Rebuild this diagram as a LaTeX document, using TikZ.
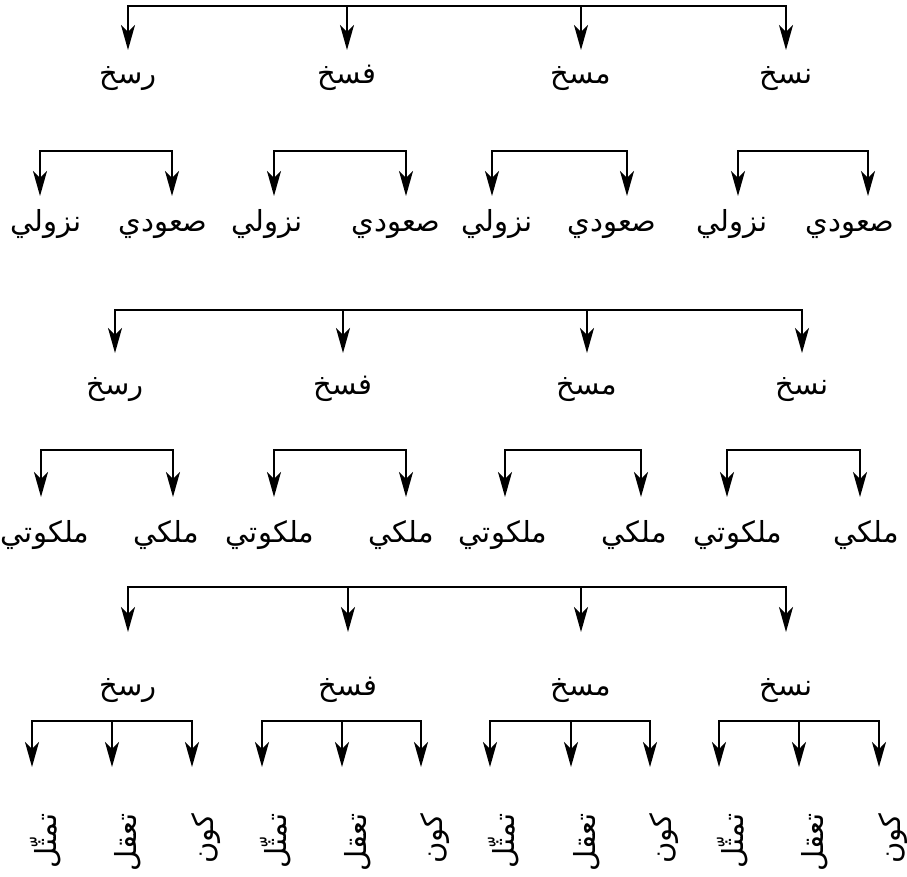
\documentclass[tikz,border=0pt]{standalone}
\usepackage{fontspec}
\newfontfamily\arabicfont[Script=Arabic]{DejaVu Sans}
\TeXXeTstate=1
\usetikzlibrary{arrows.meta,calc}
\newcommand{\artxt}[1]{\beginR #1\endR}
\tikzset{
  conn/.style={line width=2pt, line cap=rect},
  arr/.style={line width=2pt, -{Stealth[length=25pt,width=14pt,inset=7pt]}},
  lab/.style={inner xsep=0pt, text height=23pt, text depth=9pt, anchor=north,
              font=\arabicfont\fontsize{29}{34}\selectfont},
  vlab/.style={inner sep=0pt, text height=22pt, text depth=9pt, rotate=90, anchor=east,
              font=\arabicfont\fontsize{29}{34}\selectfont},
}
\begin{document}
\begin{tikzpicture}[x=1pt,y=-1pt]
\useasboundingbox (0,0) rectangle (907,876);

% ---------- Section 1 ----------
\coordinate (a1) at (128,6); \coordinate (a2) at (347,6);
\coordinate (a3) at (581,6); \coordinate (a4) at (786,6);
\draw[conn] (a1) -- (a4);
\node[lab, inner ysep=10pt] (A1) at (128,50) {\artxt{رسخ}};
\node[lab, inner ysep=10pt] (A2) at (347,50) {\artxt{فسخ}};
\node[lab, inner ysep=10pt] (A3) at (581,50) {\artxt{مسخ}};
\node[lab, inner ysep=10pt] (A4) at (786,50) {\artxt{نسخ}};
\foreach \i in {1,...,4} \draw[arr] (a\i) -- (a\i |- A\i.north);

% row 2 brackets
\foreach \i/\l/\r in {1/40/172, 2/274/406, 3/492/627, 4/738/868}{
  \coordinate (bl\i) at (\l,151); \coordinate (br\i) at (\r,151);
  \draw[conn] (bl\i) -- (br\i);
}
\foreach \i/\xl/\xr in {1/46/163, 2/267/396, 3/497/612, 4/732/850}{
  \node[lab, inner ysep=12pt] (BL\i) at (\xl,196) {\artxt{نزولي}};
  \node[lab, inner ysep=12pt] (BR\i) at (\xr,196) {\artxt{صعودي}};
  \draw[arr] (bl\i) -- (bl\i |- BL\i.north);
  \draw[arr] (br\i) -- (br\i |- BR\i.north);
}

% ---------- Section 2 ----------
\coordinate (c1) at (115,310); \coordinate (c2) at (343,310);
\coordinate (c3) at (587,310); \coordinate (c4) at (802,310);
\draw[conn] (c1) -- (c4);
\node[lab, inner ysep=18pt] (C1) at (115,353) {\artxt{رسخ}};
\node[lab, inner ysep=18pt] (C2) at (343,353) {\artxt{فسخ}};
\node[lab, inner ysep=18pt] (C3) at (587,353) {\artxt{مسخ}};
\node[lab, inner ysep=18pt] (C4) at (802,353) {\artxt{نسخ}};
\foreach \i in {1,...,4} \draw[arr] (c\i) -- (c\i |- C\i.north);

% row 4 brackets
\foreach \i/\l/\r in {1/41/173, 2/274/406, 3/505/641, 4/727/860}{
  \coordinate (dl\i) at (\l,450); \coordinate (dr\i) at (\r,450);
  \draw[conn] (dl\i) -- (dr\i);
}
\foreach \i/\xl/\xr in {1/45/166, 2/270/401, 3/503/634, 4/738/866}{
  \node[lab, inner ysep=22pt] (DL\i) at (\xl,497) {\artxt{ملكوتي}};
  \node[lab, inner ysep=22pt] (DR\i) at (\xr,497) {\artxt{ملكي}};
  \draw[arr] (dl\i) -- (dl\i |- DL\i.north);
  \draw[arr] (dr\i) -- (dr\i |- DR\i.north);
}

% ---------- Section 3 ----------
\coordinate (e1) at (128,587); \coordinate (e2) at (348,587);
\coordinate (e3) at (581,587); \coordinate (e4) at (786,587);
\draw[conn] (e1) -- (e4);
\node[lab, inner ysep=40pt] (E1) at (128,632) {\artxt{رسخ}};
\node[lab, inner ysep=40pt] (E2) at (348,632) {\artxt{فسخ}};
\node[lab, inner ysep=40pt] (E3) at (581,632) {\artxt{مسخ}};
\node[lab, inner ysep=40pt] (E4) at (786,632) {\artxt{نسخ}};
\foreach \i in {1,...,4} \draw[arr] (e\i) -- (e\i |- E\i.north);

% row 6 triple brackets
\foreach \i/\l/\m/\r in {1/32/112/192, 2/262/342/421, 3/490/571/650, 4/719/799/879}{
  \coordinate (fl\i) at (\l,721); \coordinate (fm\i) at (\m,721); \coordinate (fr\i) at (\r,721);
  \draw[conn] (fl\i) -- (fr\i);
  \node[vlab] (FL\i) at ($(fl\i)+(18,92)$) {\artxt{تمثّل}};
  \node[vlab] (FM\i) at ($(fm\i)+(18,92)$) {\artxt{تعقل}};
  \node[vlab] (FR\i) at ($(fr\i)+(15,92)$) {\artxt{كون}};
  \draw[arr, shorten >=46pt] (fl\i) -- (fl\i |- FL\i.east);
  \draw[arr, shorten >=46pt] (fm\i) -- (fm\i |- FM\i.east);
  \draw[arr, shorten >=46pt] (fr\i) -- (fr\i |- FR\i.east);
}
\end{tikzpicture}
\end{document}
